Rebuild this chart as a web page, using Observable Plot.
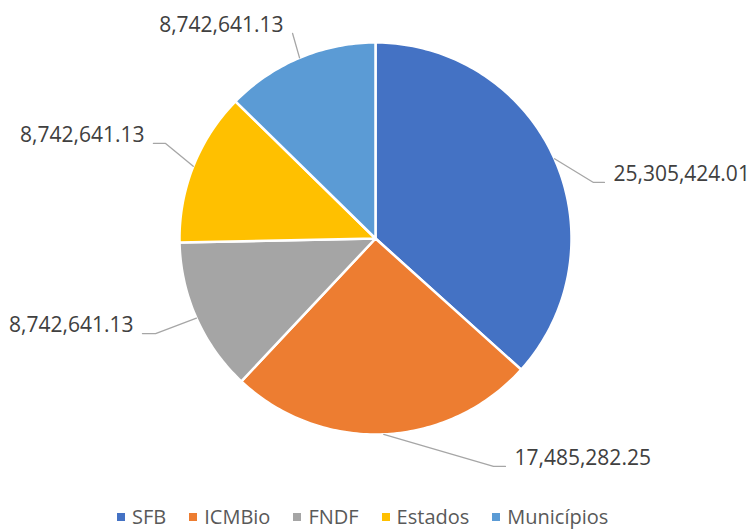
<!DOCTYPE html>
<html>
<head>
<meta charset="utf-8">
<script src="https://cdn.jsdelivr.net/npm/d3@7"></script>
<script src="https://cdn.jsdelivr.net/npm/@observablehq/plot@0.6"></script>
<style>
  html, body { margin: 0; padding: 0; background: #fff; overflow: hidden; }
  #chart { width: 754px; position: relative; }
  #legend { display: flex; align-items: center; height: 29px; padding-left: 117px;
    position: relative; top: 2px;
    font-family: "Open Sans", sans-serif; font-size: 20px; color: #595959; line-height: 26px; }
  #legend .item { display: flex; align-items: center; margin-right: 23px; }
  #legend .sw { width: 8px; height: 8px; margin-right: 7px; }
</style>
</head>
<body>
<div id="chart"></div>
<script>
// ---- data ----
const names = ["SFB", "ICMBio", "FNDF", "Estados", "Municípios"];
const values = [25305424.01, 17485282.25, 8742641.13, 8742641.13, 8742641.13];
const colors = ["#4472C4", "#ED7D31", "#A5A5A5", "#FFC000", "#5B9BD5"];

// ---- label layout (in pie-radius units, y up) ----
const leaderElbow = [[1.112, 0.286], [0.602, -1.163], [-1.122, -0.485], [-1.071, 0.485], [-0.423, 1.046]];
const leaderEnd   = [[1.168, 0.286], [0.663, -1.163], [-1.189, -0.485], [-1.133, 0.485], [-0.423, 1.046]];
const labelSide   = ["start", "start", "end", "end", "end"];

const R = 196, W = 754, H = 500, CX = 375, CY = 238;
const fmt = d3.format(",.2f");

const arcs = d3.pie().sort(null)(values);

// slice outlines (geometry only)
const slicePts = arcs.flatMap((a, i) => {
  const pts = [{name: names[i], x: 0, y: 0}];
  const n = Math.max(2, Math.ceil((a.endAngle - a.startAngle) / (Math.PI / 180)));
  for (let k = 0; k <= n; k++) {
    const t = a.startAngle + (a.endAngle - a.startAngle) * k / n;
    pts.push({name: names[i], x: Math.sin(t), y: Math.cos(t)});
  }
  return pts;
});

const leaderPts = arcs.flatMap((a, i) => {
  const m = (a.startAngle + a.endAngle) / 2;
  return [
    {name: names[i], x: Math.sin(m), y: Math.cos(m)},
    {name: names[i], x: leaderElbow[i][0], y: leaderElbow[i][1]},
    {name: names[i], x: leaderEnd[i][0], y: leaderEnd[i][1]}
  ];
});

const gap = 9 / R, lift = 8 / R;
const labelData = arcs.map((a, i) => ({
  name: names[i],
  side: labelSide[i],
  text: fmt(values[i]),
  x: leaderEnd[i][0] + (labelSide[i] === "start" ? gap : -gap),
  y: leaderEnd[i][1] + lift
}));

const plot = Plot.plot({
  width: W, height: H,
  margin: 0,
  x: {type: "linear", domain: [-CX / R, (W - CX) / R], axis: null},
  y: {type: "linear", domain: [-(H - CY) / R, CY / R], axis: null},
  color: {domain: names, range: colors},
  style: {fontFamily: "'Open Sans', sans-serif", background: "#fff"},
  marks: [
    Plot.line(slicePts, {x: "x", y: "y", z: "name", fill: "name", stroke: "white", strokeWidth: 2.5,
      strokeLinejoin: "round", curve: "linear-closed"}),
    Plot.line(leaderPts, {x: "x", y: "y", z: "name", stroke: "#A6A6A6", strokeWidth: 1.3}),
    Plot.text(labelData.filter(d => d.side === "start"), {x: "x", y: "y", text: "text",
      textAnchor: "start", lineAnchor: "middle", fontSize: 21, fill: "#404040"}),
    Plot.text(labelData.filter(d => d.side === "end"), {x: "x", y: "y", text: "text",
      textAnchor: "end", lineAnchor: "middle", fontSize: 21, fill: "#404040"})
  ]
});
document.getElementById("chart").appendChild(plot);

// legend below the svg
const legend = d3.select("#chart").append("div").attr("id", "legend");
const items = legend.selectAll(".item").data(names).join("div").attr("class", "item");
items.append("div").attr("class", "sw").style("background", (d, i) => colors[i]);
items.append("span").text(d => d);
</script>
</body>
</html>
